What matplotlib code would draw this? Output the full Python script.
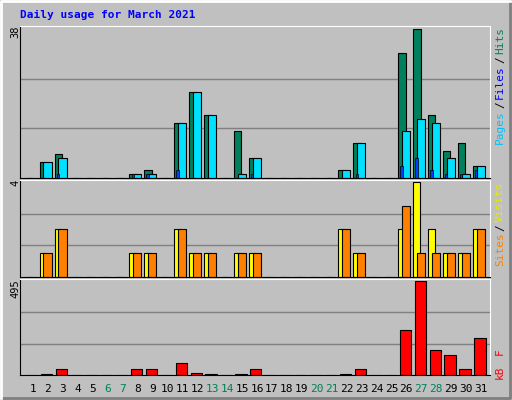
import matplotlib.pyplot as plt
import numpy as np

days = np.arange(1, 32)
hits = [0, 4, 6, 0, 0, 0, 0, 1, 2, 0, 14, 22, 16, 0, 12, 5, 0, 0, 0, 0, 0, 2, 9, 0, 0, 32, 38, 16, 7, 9, 3]
files = [0, 4, 5, 0, 0, 0, 0, 1, 1, 0, 14, 22, 16, 0, 1, 5, 0, 0, 0, 0, 0, 2, 9, 0, 0, 12, 15, 14, 5, 1, 3]
pages = [0, 0, 1, 0, 0, 0, 0, 1, 1, 0, 2, 0, 0, 0, 0, 1, 0, 0, 0, 0, 0, 0, 1, 0, 0, 3, 5, 2, 1, 1, 2]
visits = [0, 1, 2, 0, 0, 0, 0, 1, 1, 0, 2, 1, 1, 0, 1, 1, 0, 0, 0, 0, 0, 2, 1, 0, 0, 2, 4, 2, 1, 1, 2]
sites = [0, 1, 2, 0, 0, 0, 0, 1, 1, 0, 2, 1, 1, 0, 1, 1, 0, 0, 0, 0, 0, 2, 1, 0, 0, 3, 1, 1, 1, 1, 2]
kbytes = [0, 3, 34, 0, 0, 0, 0, 29, 29, 0, 61, 13, 5, 0, 5, 29, 0, 0, 0, 0, 0, 5, 34, 0, 0, 235, 495, 132, 105, 34, 197]
weekends = [6, 7, 13, 14, 20, 21, 27, 28]

W, H = 512, 400
fig = plt.figure(figsize=(W / 100, H / 100), dpi=100)
fig.patch.set_facecolor("#c0c0c0")
mono = "DejaVu Sans Mono"

# 3D border
bord = fig.add_axes([0, 0, 1, 1])
bord.set_xlim(0, W)
bord.set_ylim(H, 0)
bord.axis("off")
bord.plot([1, W - 2, W - 2], [H - 2, H - 2, 1], color="#808080", lw=2)
bord.plot([1, 1, W - 2], [H - 2, 1, 1], color="white", lw=2)

def panel(top, bottom, ymax):
    ax = fig.add_axes([20 / W, (H - bottom) / H, 470 / W, (bottom - top) / H])
    ax.set_facecolor("#c0c0c0")
    ax.set_xlim(0.13, 31.6)
    ax.set_ylim(0, ymax * 1.02)
    for f in (1 / 3, 2 / 3):
        ax.axhline(ymax * f, color="#808080", lw=1, zorder=0)
    ax.set_xticks([])
    ax.set_yticks([])
    for s in ("top", "right"):
        ax.spines[s].set_color("white")
    for s in ("bottom", "left"):
        ax.spines[s].set_color("black")
    return ax

ax1 = panel(26, 178, 38)
ax1.bar(days - 0.55, hits, width=0.5, align="edge", color="#00805c", edgecolor="black", lw=0.8)
ax1.bar(days - 0.3, files, width=0.55, align="edge", color="#00e0ff", edgecolor="black", lw=0.8)
ax1.bar(days - 0.4, pages, width=0.15, align="edge", color="#0040ff", edgecolor="black", lw=0.5)

ax2 = panel(180, 277, 4)
ax2.bar(days - 0.55, visits, width=0.45, align="edge", color="#ffff00", edgecolor="black", lw=0.8)
ax2.bar(days - 0.3, sites, width=0.55, align="edge", color="#ff8000", edgecolor="black", lw=0.8)

ax3 = panel(279, 375, 495)
ax3.bar(days - 0.45, kbytes, width=0.75, align="edge", color="#ff0000", edgecolor="black", lw=0.8)

# titles and labels
fig.text(20 / W, 1 - 15 / H, "Daily usage for March 2021", color="#0000ff",
         family=mono, weight="bold", fontsize=8, va="center")
for y, lab in ((26, "38"), (180, "4"), (279, "495")):
    fig.text(15 / W, 1 - y / H, lab, rotation=90, family=mono, fontsize=7.5,
             ha="center", va="top")

def side(ytop, parts):
    y = ytop
    for txt, col in parts:
        fig.text(500 / W, 1 - y / H, txt, rotation=90, color=col, family=mono,
                 fontsize=8, ha="center", va="top")
        y += len(txt) * 6.8 + 2

side(27, [("Hits", "#00805c"), ("/", "black"), ("Files", "#0000ff"), ("/", "black"), ("Pages", "#00c0ff")])
side(181, [("Visits", "#e8e800"), ("/", "black"), ("Sites", "#ff8000")])
side(348, [("F", "#ff0000"), (" ", "black"), ("kB", "#ff0000")])

for d in days:
    x = 20 + (d - 0.13) / (31.6 - 0.13) * 470
    fig.text(x / W, 1 - 389 / H, str(d), family=mono, fontsize=8, ha="center", va="center",
             color="#00805c" if d in weekends else "black")

fig.savefig("out.png", dpi=100, facecolor=fig.get_facecolor())
